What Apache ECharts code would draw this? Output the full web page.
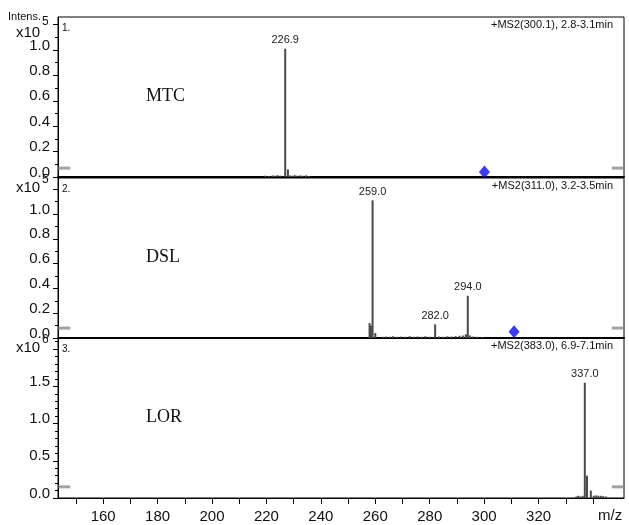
<!DOCTYPE html>
<html>
<head>
<meta charset="utf-8">
<script src="https://cdn.jsdelivr.net/npm/echarts@6/dist/echarts.min.js"></script>
<style>
  html, body { margin: 0; background: #fff; }
  #chart { width: 629px; height: 525px; }
</style>
</head>
<body>
<div id="chart"></div>
<script>
// m/z range and tick values
const mzMin = 143.4
const mzMax = 351.4
const mzLabels = [160, 180, 200, 220, 240, 260, 280, 300, 320]
const mzTicks = [150, 160, 170, 180, 190, 200, 210, 220, 230, 240, 250, 260, 270, 280, 290, 300, 310, 320, 330, 340]

// peaks [m/z, intensity] per panel
const mtcPeaks = [
  [219.6, 0.01], [221.0, 0.008], [222.3, 0.012], [223.2, 0.01], [224.1, 0.014], [225.2, 0.01],
  [226.9, 1.01], [227.9, 0.06], [228.7, 0.012], [229.6, 0.01], [230.4, 0.014], [231.2, 0.01],
  [232.3, 0.012], [233.2, 0.01], [234.5, 0.013], [235.6, 0.008]
]
const dslPeaks = [
  [257.9, 0.12], [258.4, 0.10], [259.0, 1.11], [260.0, 0.04], [262.8, 0.01], [264.0, 0.012],
  [265.3, 0.01], [266.5, 0.014], [268.0, 0.01], [269.4, 0.012], [271.0, 0.01], [272.6, 0.015],
  [274.1, 0.01], [275.5, 0.012], [277.0, 0.01], [278.4, 0.014], [280.0, 0.01], [282.0, 0.11],
  [283.4, 0.012], [285.0, 0.01], [286.5, 0.014], [288.0, 0.012], [289.5, 0.015], [291.0, 0.018],
  [292.3, 0.02], [293.3, 0.03], [294.0, 0.34], [294.8, 0.02], [296.0, 0.012], [297.5, 0.01], [299.4, 0.008]
]
const lorPeaks = [
  [333.9, 0.02], [334.6, 0.03], [335.3, 0.02], [336.2, 0.03], [337.0, 1.55], [337.8, 0.30],
  [339.2, 0.10], [340.3, 0.03], [341.2, 0.035], [342.0, 0.03], [342.9, 0.03], [343.8, 0.025], [344.8, 0.02]
]
const labeledPeaks = [[226.9], [259.0, 282.0, 294.0], [337.0]]

// precursor markers (blue diamonds)
const mtcPrecursor = [[300.1, 0.04]]
const dslPrecursor = [[311.0, 0.05]]

// grey baseline markers at both ends
const baseMarkLevels = [0.07, 0.08, 0.15]

const compoundNames = ['MTC', 'DSL', 'LOR']
const panelTitles = ['+MS2(300.1), 2.8-3.1min', '+MS2(311.0), 3.2-3.5min', '+MS2(383.0), 6.9-7.1min']
const yMaxes = [1.26, 1.29, 2.15]
const yLabelValues = [
  [0, 0.2, 0.4, 0.6, 0.8, 1.0],
  [0, 0.2, 0.4, 0.6, 0.8, 1.0],
  [0, 0.5, 1.0, 1.5]
]
const yTickValues = [
  [0, 0.2, 0.4, 0.6, 0.8, 1.0, 1.2],
  [0, 0.2, 0.4, 0.6, 0.8, 1.0, 1.2],
  [0, 0.5, 1.0, 1.5, 2.0]
]
const yMinorValues = [
  [0.1, 0.3, 0.5, 0.7, 0.9, 1.1],
  [0.1, 0.3, 0.5, 0.7, 0.9, 1.1],
  [0.1, 0.2, 0.3, 0.4, 0.6, 0.7, 0.8, 0.9, 1.1, 1.2, 1.3, 1.4, 1.6, 1.7, 1.8, 1.9, 2.1]
]
const exponents = ['5', '5', '6']

const panelData = [mtcPeaks, dslPeaks, lorPeaks]
const precursors = [mtcPrecursor, dslPrecursor, []]

const gridTops = [17, 178, 338]
const gridHeight = 160
const font = 'Liberation Sans, Arial, sans-serif'

const chart = echarts.init(document.getElementById('chart'))

const grids = gridTops.map((top) => ({
  left: 58,
  right: 5,
  top: top,
  height: gridHeight,
  show: true,
  borderColor: '#000',
  borderWidth: 1,
}))

const xAxes = gridTops.map((_, i) => {
  const last = i === 2
  return {
    type: 'value',
    gridIndex: i,
    min: mzMin,
    max: mzMax,
    splitLine: { show: false },
    axisLine: { lineStyle: { color: '#000', width: last ? 1 : 2 } },
    axisTick: {
      show: last,
      customValues: mzTicks,
      length: 6,
      lineStyle: { color: '#000' },
    },
    axisLabel: {
      show: last,
      customValues: mzLabels,
      margin: 11,
      fontSize: 15,
      fontFamily: font,
      color: '#111',
    },
  }
})

const yAxes = []
gridTops.forEach((_, i) => {
  yAxes.push({
    type: 'value',
    gridIndex: i,
    position: 'left',
    min: 0,
    max: yMaxes[i],
    splitLine: { show: false },
    axisLine: { show: true, lineStyle: { color: '#000' } },
    axisTick: { customValues: yTickValues[i], length: 5, lineStyle: { color: '#000' } },
    axisLabel: {
      customValues: yLabelValues[i],
      margin: 8,
      fontSize: 15,
      fontFamily: font,
      color: '#111',
      verticalAlign: 'bottom',
      lineHeight: 9,
      formatter: (v) => v.toFixed(1),
    },
  })
  yAxes.push({
    type: 'value',
    gridIndex: i,
    position: 'left',
    min: 0,
    max: yMaxes[i],
    splitLine: { show: false },
    axisLine: { show: false },
    axisTick: { customValues: yMinorValues[i], length: 3, lineStyle: { color: '#000' } },
    axisLabel: { show: false },
  })
})

const series = []
panelData.forEach((peaks, i) => {
  series.push({
    type: 'bar',
    xAxisIndex: i,
    yAxisIndex: i * 2,
    barWidth: 2,
    itemStyle: { color: '#4a4a4a' },
    silent: true,
    label: { show: false },
    data: peaks.map((p) => {
      const lab = labeledPeaks[i].includes(p[0])
      return {
        value: p,
        label: lab
          ? {
              show: true,
              position: 'top',
              distance: 3,
              formatter: p[0].toFixed(1),
              fontSize: 11,
              fontFamily: font,
              color: '#222',
            }
          : { show: false },
      }
    }),
  })
  series.push({
    type: 'scatter',
    xAxisIndex: i,
    yAxisIndex: i * 2,
    symbol: 'diamond',
    symbolSize: [11, 13],
    itemStyle: { color: '#0a0af0' },
    data: precursors[i],
  })
  series.push({
    type: 'scatter',
    xAxisIndex: i,
    yAxisIndex: i * 2,
    symbol: 'rect',
    symbolSize: [12, 3],
    itemStyle: { color: '#8c8c8c' },
    data: [[mzMin + 2.3, baseMarkLevels[i]], [mzMax - 2.3, baseMarkLevels[i]]],
  })
})

// exponent label positions: [x10 top, superscript top]
const expTops = [[25, 16], [180, 174], [340, 334]]

const graphics = [
  { type: 'text', left: 8, top: 11, style: { text: 'Intens.', font: '11px ' + font, fill: '#111' } },
  { type: 'text', left: 598, top: 508, style: { text: 'm/z', font: '15px ' + font, fill: '#111' } },
]
gridTops.forEach((top, i) => {
  graphics.push({
    type: 'text', left: 16, top: expTops[i][0],
    style: { text: 'x10', font: '15px ' + font, fill: '#111' },
  })
  graphics.push({
    type: 'text', left: 42, top: expTops[i][1],
    style: { text: exponents[i], font: '12px ' + font, fill: '#111' },
  })
  graphics.push({
    type: 'text', left: 62, top: top + 6,
    style: { text: (i + 1) + '.', font: '10px ' + font, fill: '#111' },
  })
  graphics.push({
    type: 'text', right: 16, top: top + 2,
    style: { text: panelTitles[i], font: '11px ' + font, fill: '#111' },
  })
  graphics.push({
    type: 'text', left: 146, top: top + 70,
    style: { text: compoundNames[i], font: '18px Liberation Serif, Times New Roman, serif', fill: '#111' },
  })
})

chart.setOption({
  animation: false,
  grid: grids,
  xAxis: xAxes,
  yAxis: yAxes,
  series: series,
  graphic: graphics,
})
</script>
</body>
</html>
